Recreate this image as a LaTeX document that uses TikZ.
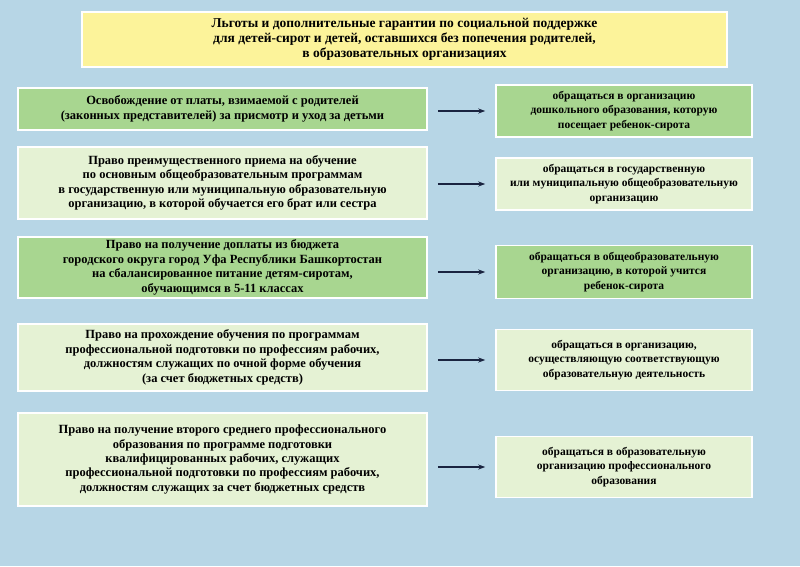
\documentclass[tikz,border=0pt]{standalone}
\usepackage{fontspec}
\setmainfont{Liberation Serif}
\usetikzlibrary{arrows.meta}
\definecolor{bgblue}{HTML}{B7D6E6}
\definecolor{titleyellow}{HTML}{FCF39A}
\definecolor{darkgreen}{HTML}{A8D690}
\definecolor{lightgreen}{HTML}{E5F2D4}
\definecolor{arrowblue}{HTML}{1A2440}
\tikzset{
  box/.style={draw=white, line width=1.5pt, align=center, font=\fontsize{12.5}{14.5}\selectfont\bfseries, inner sep=0pt},
  dark/.style={box, fill=darkgreen},
  light/.style={box, fill=lightgreen},
  link/.style={-{Stealth[length=7pt,width=5pt]}, line width=1.8pt, draw=arrowblue},
}
\begin{document}
\begin{tikzpicture}[x=1pt,y=-1pt]
  \fill[bgblue] (0,0) rectangle (800,566);
  \useasboundingbox (0,0) rectangle (800,566);
  % title
  \node[box, fill=titleyellow, minimum width=645pt, minimum height=55pt, font=\fontsize{13.5}{15}\selectfont\bfseries] (title) at (404.5,39.5)
    {Льготы и дополнительные гарантии по социальной поддержке\\
     для детей-сирот и детей, оставшихся без попечения родителей,\\
     в образовательных организациях};
  % left column
  \node[dark, minimum width=409pt, minimum height=42pt] (l1) at (222.5,109)
    {Освобождение от платы, взимаемой с родителей\\
     (законных представителей) за присмотр и уход за детьми};
  \node[light, minimum width=409pt, minimum height=72pt] (l2) at (222.5,183)
    {Право преимущественного приема на обучение\\
     по основным общеобразовательным программам\\
     в государственную или муниципальную образовательную\\
     организацию, в которой обучается его брат или сестра};
  \node[dark, minimum width=409pt, minimum height=61pt] (l3) at (222.5,267.5)
    {Право на получение доплаты из бюджета\\
     городского округа город Уфа Республики Башкортостан\\
     на сбалансированное питание детям-сиротам,\\
     обучающимся в 5-11 классах};
  \node[light, minimum width=409pt, minimum height=67pt] (l4) at (222.5,357.5)
    {Право на прохождение обучения по программам\\
     профессиональной подготовки по профессиям рабочих,\\
     должностям служащих по очной форме обучения\\
     (за счет бюджетных средств)};
  \node[light, minimum width=409pt, minimum height=93pt] (l5) at (222.5,459.5)
    {Право на получение второго среднего профессионального\\
     образования по программе подготовки\\
     квалифицированных рабочих, служащих\\
     профессиональной подготовки по профессиям рабочих,\\
     должностям служащих за счет бюджетных средств};
  % right column
  \tikzset{box/.append style={font=\fontsize{11.5}{14.5}\selectfont\bfseries}}
  \node[dark, minimum width=256pt, minimum height=52pt] (r1) at (624,111)
    {обращаться в организацию\\
     дошкольного образования, которую\\
     посещает ребенок-сирота};
  \node[light, minimum width=256pt, minimum height=52pt] (r2) at (624,184)
    {обращаться в государственную\\
     или муниципальную общеобразовательную\\
     организацию};
  \node[dark, minimum width=256pt, minimum height=53pt] (r3) at (624,272)
    {обращаться в общеобразовательную\\
     организацию, в которой учится\\
     ребенок-сирота};
  \node[light, minimum width=256pt, minimum height=61pt] (r4) at (624,360)
    {обращаться в организацию,\\
     осуществляющую соответствующую\\
     образовательную деятельность};
  \node[light, minimum width=256pt, minimum height=61pt] (r5) at (624,467)
    {обращаться в образовательную\\
     организацию профессионального\\
     образования};
  % arrows
  \foreach \i in {1,...,5}
    \draw[link] ([xshift=10pt]l\i.east |- r\i.west) -- ([xshift=-10pt]r\i.west);
\end{tikzpicture}
\end{document}
